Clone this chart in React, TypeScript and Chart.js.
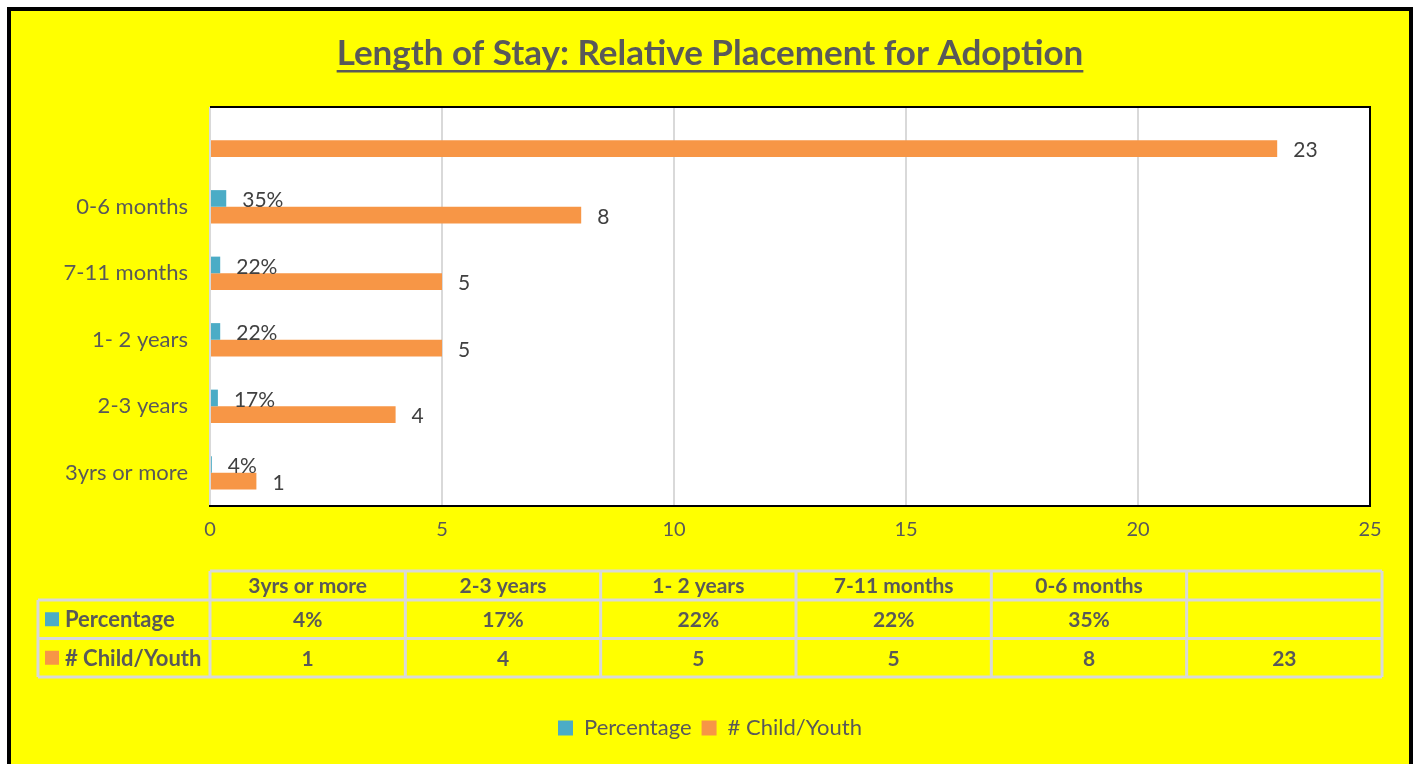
import React, { useEffect, useRef } from "react";
import { Chart, registerables } from "chart.js";

Chart.register(...registerables);

// ---- data ----
const categories = ["3yrs or more", "2-3 years", "1- 2 years", "7-11 months", "0-6 months", ""];
const percentageValues: (number | null)[] = [0.04, 0.17, 0.22, 0.22, 0.35, null];
const childYouthValues: number[] = [1, 4, 5, 5, 8, 23];
const seriesNames = ["Percentage", "# Child/Youth"];
const xTickValues = [0, 5, 10, 15, 20, 25];
const titleText = "Length of Stay: Relative Placement for Adoption";

// ---- styles ----
const TEAL = "#4BACC6";
const ORANGE = "#F79646";
const GRAY = "#595959";
const LABEL = "#404040";
const FONT = "Lato, 'Open Sans', sans-serif";
const TITLE_SIZE = 35;
const TITLE_PAD_TOP = 22;

const fmtPct = (v: number | null) => (v == null ? "" : Math.round(v * 100) + "%");

const plotBgPlugin = {
  id: "plotBg",
  beforeDraw(chart: any) {
    const { ctx, chartArea: a } = chart;
    ctx.save();
    ctx.fillStyle = "#FFFFFF";
    ctx.fillRect(a.left, a.top, a.width, a.height);
    ctx.restore();
  },
};

const frameAndExtrasPlugin = {
  id: "frameExtras",
  afterDatasetsDraw(chart: any) {
    const { ctx } = chart;
    // data labels
    ctx.save();
    ctx.font = `21px ${FONT}`;
    ctx.fillStyle = LABEL;
    ctx.textAlign = "left";
    ctx.textBaseline = "middle";
    chart.data.datasets.forEach((ds: any, di: number) => {
      const meta = chart.getDatasetMeta(di);
      meta.data.forEach((bar: any, i: number) => {
        const v = ds.data[i];
        if (v == null) return;
        const txt = di === 0 ? fmtPct(v) : String(v);
        ctx.fillText(txt, bar.x + 16, bar.y + 2);
      });
    });
    ctx.restore();
  },
  afterDraw(chart: any) {
    const { ctx, chartArea: a } = chart;
    ctx.save();
    // plot frame (top / right)
    ctx.strokeStyle = "#000000";
    ctx.lineWidth = 2;
    ctx.beginPath();
    ctx.moveTo(a.left, a.top);
    ctx.lineTo(a.right, a.top);
    ctx.lineTo(a.right, a.bottom);
    ctx.stroke();

    // title underline
    const lh = TITLE_SIZE * 1.2;
    const cy = chart.titleBlock.top + TITLE_PAD_TOP + lh / 2;
    ctx.font = `bold ${TITLE_SIZE}px ${FONT}`;
    const tw = ctx.measureText(titleText).width;
    const cx = (chart.titleBlock.left + chart.titleBlock.right) / 2;
    ctx.fillStyle = GRAY;
    ctx.fillRect(cx - tw / 2, cy + 16, tw, 2.5);

    // data table
    const left0 = a.left - 172;
    const colStart = a.left;
    const right = a.right + 12;
    const colW = (right - colStart) / categories.length;
    const top = a.bottom + 65;
    const hH = 29;
    const rH = 38.5;
    const r1 = top + hH;
    const r2 = r1 + rH;
    const r3 = r2 + rH;
    ctx.strokeStyle = "#D9D9D9";
    ctx.lineWidth = 3;
    ctx.beginPath();
    ctx.moveTo(colStart, top);
    ctx.lineTo(right, top);
    [r1, r2, r3].forEach((y) => {
      ctx.moveTo(left0, y);
      ctx.lineTo(right, y);
    });
    ctx.moveTo(left0, r1);
    ctx.lineTo(left0, r3);
    for (let i = 0; i <= categories.length; i++) {
      const x = colStart + i * colW;
      ctx.moveTo(x, top);
      ctx.lineTo(x, r3);
    }
    ctx.stroke();

    ctx.fillStyle = GRAY;
    ctx.font = `bold 21px ${FONT}`;
    ctx.textAlign = "center";
    ctx.textBaseline = "middle";
    categories.forEach((c, i) => {
      const x = colStart + (i + 0.5) * colW;
      ctx.fillText(c, x, top + hH / 2 + 1);
      ctx.fillText(fmtPct(percentageValues[i]), x, r1 + rH / 2 + 1);
      ctx.fillText(String(childYouthValues[i]), x, r2 + rH / 2 + 1);
    });
    // row headers
    ctx.textAlign = "left";
    ctx.font = `bold 22px ${FONT}`;
    [TEAL, ORANGE].forEach((col, k) => {
      const y = r1 + k * rH + rH / 2;
      ctx.fillStyle = col;
      ctx.fillRect(left0 + 7, y - 7, 14, 14);
      ctx.fillStyle = GRAY;
      ctx.fillText(seriesNames[k], left0 + 27, y + 1);
    });
    ctx.restore();
  },
};

export default function App() {
  const ref = useRef<HTMLCanvasElement>(null);
  useEffect(() => {
    const chart = new Chart(ref.current as HTMLCanvasElement, {
      type: "bar",
      data: {
        labels: categories,
        datasets: [
          {
            label: seriesNames[0],
            data: percentageValues as any,
            backgroundColor: TEAL,
            borderWidth: 0,
            categoryPercentage: 0.5,
            barPercentage: 1,
          },
          {
            label: seriesNames[1],
            data: childYouthValues,
            backgroundColor: ORANGE,
            borderWidth: 0,
            categoryPercentage: 0.5,
            barPercentage: 1,
          },
        ],
      },
      options: {
        indexAxis: "y",
        animation: false,
        responsive: false,
        maintainAspectRatio: false,
        layout: { padding: { top: 0, left: 0, right: 0, bottom: 15 } },
        scales: {
          x: {
            type: "linear",
            min: 0,
            max: 25,
            afterBuildTicks(scale: any) {
              scale.ticks = xTickValues.map((v) => ({ value: v }));
            },
            afterFit(scale: any) {
              scale.height = 201;
            },
            grid: { color: "#D9D9D9", lineWidth: 2, drawTicks: false },
            border: { display: true, color: "#000000", width: 2 },
            ticks: { color: GRAY, font: { family: FONT, size: 20 }, padding: 12 },
          },
          y: {
            type: "category",
            reverse: true,
            afterFit(scale: any) {
              scale.width = 199;
            },
            grid: { display: false, drawTicks: false },
            border: { display: false },
            ticks: { color: GRAY, font: { family: FONT, size: 22 }, padding: 22 },
          },
          yRight: {
            type: "category",
            position: "right",
            labels: categories,
            afterFit(scale: any) {
              scale.width = 39;
            },
            grid: { display: false, drawTicks: false },
            border: { display: false },
            ticks: { display: false },
          },
        },
        plugins: {
          title: {
            display: true,
            text: titleText,
            color: GRAY,
            font: { family: FONT, size: TITLE_SIZE, weight: "bold" },
            padding: { top: TITLE_PAD_TOP, bottom: 96 - TITLE_PAD_TOP - TITLE_SIZE * 1.2 },
          },
          legend: {
            display: true,
            position: "bottom",
            labels: {
              color: GRAY,
              font: { family: FONT, size: 22 },
              boxWidth: 15,
              boxHeight: 15,
              padding: 10,
            },
          },
          tooltip: { enabled: false },
        },
      },
      plugins: [plotBgPlugin, frameAndExtrasPlugin],
    } as any);
    return () => chart.destroy();
  }, []);

  return (
    <div
      style={{
        position: "fixed",
        left: 7,
        top: 7,
        width: 1406,
        height: 800,
        boxSizing: "border-box",
        border: "4px solid #000000",
        background: "#FFFF00",
      }}
    >
      <canvas ref={ref} width={1398} height={753} style={{ display: "block", width: 1398, height: 753 }} />
    </div>
  );
}
